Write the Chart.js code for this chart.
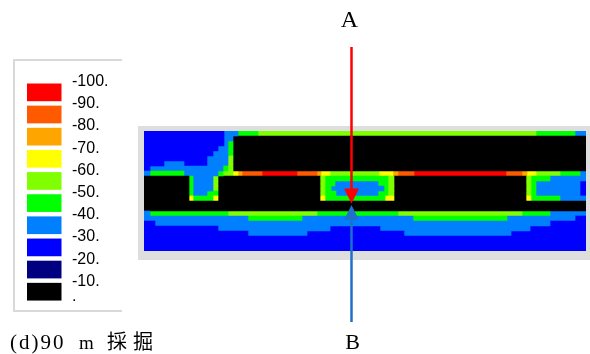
<!DOCTYPE html>
<html><head><meta charset="utf-8">
<script src="https://cdn.jsdelivr.net/npm/chart.js@4.4.0/dist/chart.umd.min.js"></script>
<style>html,body{margin:0;padding:0;background:#fff;overflow:hidden}</style>
</head><body>
<canvas id="c" width="590" height="354"></canvas>
<script>
// Legend classes (stress levels) and their colours
const levelLabels = ['-100.','-90.','-80.','-70.','-60.','-50.','-40.','-30.','-20.','-10.','.'];
const levelColors = ['#FF0000','#FF5A00','#FFA500','#FFFF00','#80FF00','#00FF00','#0080FF','#0000FF','#000080','#000000'];
const levelCodes  = 'ROAYLGCBNK';   // code letter -> index in levelColors

// Horizontal extent of the section (distance units)
const sectionLength = 442;
// Row categories (depth rows, top to bottom)
const depthRows = Array.from({length:24}, (_, i) => 'r' + i);

// Each row: runs of "<code><end distance>"
const rowRuns = [
  'B80 C94 G114 L392 G431 C442',
  'B80 C89 K442',
  'B80 C84 G89 K442',
  'B74 C84 G89 K442',
  'B69 C84 G89 K442',
  'B63 C84 L89 K442',
  'B20 C40 B63 C84 L89 K442',
  'B6 C79 G84 L89 K442',
  'C6 G40 C74 G79 L89 Y94 A98 O118 R153 O173 A177 Y186 L235 Y249 A254 O270 R362 O378 A383 Y392 L416 G436 C442',
  'K45 G49 C69 L74 K176 L181 G244 L250 K382 L387 G406 C442',
  'K45 G49 C69 L74 K176 L181 G191 C234 G244 L250 K382 L387 G392 C436 B442',
  'K45 G49 C69 L74 K176 L181 G187 C240 G244 L250 K382 L387 G392 C436 B442',
  'K45 G49 C63 G74 K176 L181 G192 C234 G244 L250 K382 L387 G392 C436 B442',
  'K45 Y49 G69 Y74 K176 Y181 G241 Y250 K382 Y387 G416 C442',
  'K442',
  'K442',
  'C6 G84 L173 G254 L378 G406 C442',
  'C104 G158 C269 G363 C431 B442',
  'B11 C406 B442',
  'B74 C186 B236 C386 B442',
  'B104 C163 B260 C367 B442',
  'B442',
  'B442',
  'B442'
];

// Section line A-B position (distance units) and its lower anchor row
const sectionX = 207;
const sectionRow = 14;

const rows = rowRuns.map(s => {
  let start = 0;
  return s.split(' ').map(t => {
    const seg = {start, end: +t.slice(1), level: levelCodes.indexOf(t[0])};
    start = seg.end;
    return seg;
  });
});
const maxSeg = Math.max(...rows.map(r => r.length));
const datasets = [];
for (let k = 0; k < maxSeg; k++) {
  datasets.push({
    data: rows.map(r => r[k] ? [r[k].start, r[k].end] : null),
    backgroundColor: rows.map(r => r[k] ? levelColors[r[k].level] : 'rgba(0,0,0,0)'),
    borderWidth: 0,
    grouped: false,
    barPercentage: 1,
    categoryPercentage: 1
  });
}

const decor = {
  id: 'decor',
  beforeDraw(chart) {
    const ctx = chart.ctx;
    ctx.save();
    ctx.fillStyle = '#fff';
    ctx.fillRect(0, 0, chart.width, chart.height);
    const a = chart.chartArea;
    ctx.fillStyle = '#DEDEDE';
    ctx.fillRect(a.left - 6, a.top - 5, a.right - a.left + 10, a.bottom - a.top + 14);
    ctx.restore();
  },
  afterDraw(chart) {
    const ctx = chart.ctx;
    const xs = chart.scales.x, ys = chart.scales.y;
    ctx.save();
    // legend box
    ctx.strokeStyle = '#D9D9D9';
    ctx.lineWidth = 2;
    ctx.beginPath();
    ctx.moveTo(122, 60); ctx.lineTo(14, 60); ctx.lineTo(14, 311); ctx.lineTo(122, 311);
    ctx.stroke();
    levelColors.forEach((c, k) => {
      ctx.fillStyle = c;
      ctx.fillRect(27, 83.5 + 22.15 * k, 34.5, 17.7);
    });
    ctx.fillStyle = '#000';
    ctx.font = '16px "Liberation Sans", Arial, sans-serif';
    ctx.textBaseline = 'alphabetic';
    ctx.textAlign = 'left';
    levelLabels.forEach((t, k) => {
      const y = k < levelLabels.length - 1 ? 86 + 22.2 * k : 86 + 22.2 * (k - 1) + 15;
      ctx.fillText(t, 72, y);
    });

    // section arrows
    const px = Math.round(xs.getPixelForValue(sectionX)) + 0.5;
    const tip = ys.getPixelForValue(sectionRow);
    ctx.strokeStyle = '#FF0000'; ctx.fillStyle = '#FF0000'; ctx.lineWidth = 2.5;
    ctx.beginPath(); ctx.moveTo(px, 47); ctx.lineTo(px, tip - 12); ctx.stroke();
    ctx.beginPath(); ctx.moveTo(px - 7.5, tip - 15); ctx.lineTo(px + 7.5, tip - 15); ctx.lineTo(px, tip); ctx.closePath(); ctx.fill();
    ctx.strokeStyle = '#1E70C8'; ctx.fillStyle = '#1E70C8';
    ctx.beginPath(); ctx.moveTo(px, tip + 14); ctx.lineTo(px, 322); ctx.stroke();
    ctx.beginPath(); ctx.moveTo(px - 7.5, tip + 16.5); ctx.lineTo(px + 7.5, tip + 16.5); ctx.lineTo(px, tip + 1.5); ctx.closePath(); ctx.fill();

    // labels
    ctx.fillStyle = '#000';
    ctx.textAlign = 'center';
    ctx.font = '24px "Liberation Serif", "Times New Roman", serif';
    ctx.fillText('A', px - 2, 27);
    ctx.font = '22px "Liberation Serif", "Times New Roman", serif';
    ctx.fillText('B', px + 1, 349);
    ctx.textAlign = 'left';
    ctx.font = '21px "Liberation Serif", "Times New Roman", serif';
    if ('letterSpacing' in ctx) ctx.letterSpacing = '2px';
    ctx.fillText('(d)90', 10, 349);
    if ('letterSpacing' in ctx) ctx.letterSpacing = '0px';
    ctx.font = '19px "Liberation Serif", "Times New Roman", serif';
    ctx.fillText('m', 79, 349);
    ctx.font = '20px "Noto Sans CJK JP", "Noto Sans CJK SC", sans-serif';
    ctx.fillText('採', 107, 349);
    ctx.fillText('掘', 133, 349);
    ctx.restore();
  }
};

new Chart(document.getElementById('c'), {
  type: 'bar',
  data: { labels: depthRows, datasets },
  options: {
    indexAxis: 'y',
    responsive: false,
    animation: false,
    layout: { padding: { left: 144, right: 4, top: 131, bottom: 103 } },
    scales: {
      x: { type: 'linear', min: 0, max: sectionLength, display: false },
      y: { display: false }
    },
    plugins: { legend: { display: false }, tooltip: { enabled: false } }
  },
  plugins: [decor]
});
</script>
</body></html>
